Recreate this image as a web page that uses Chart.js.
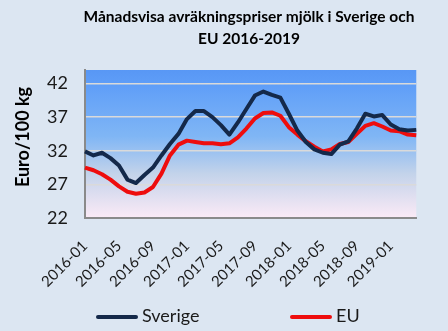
<!DOCTYPE html>
<html>
<head>
<meta charset="utf-8">
<script src="https://cdn.jsdelivr.net/npm/chart.js@4"></script>
<style>
  html, body { margin: 0; padding: 0; background: #dce6f2; }
  #wrap { width: 448px; height: 331px; }
</style>
</head>
<body>
<div id="wrap"><canvas id="milkChart"></canvas></div>
<script>
let months = ['2016-01','2016-02','2016-03','2016-04','2016-05','2016-06','2016-07','2016-08','2016-09','2016-10','2016-11','2016-12',
	'2017-01','2017-02','2017-03','2017-04','2017-05','2017-06','2017-07','2017-08','2017-09','2017-10','2017-11','2017-12',
	'2018-01','2018-02','2018-03','2018-04','2018-05','2018-06','2018-07','2018-08','2018-09','2018-10','2018-11','2018-12',
	'2019-01','2019-02','2019-03','2019-04']
let sverige = [31.9,31.3,31.7,30.9,29.8,27.7,27.2,28.4,29.5,31.3,33.0,34.5,
	36.7,37.9,37.9,37.0,35.8,34.4,36.2,38.2,40.2,40.8,40.3,39.9,
	37.5,35.0,33.3,32.2,31.7,31.5,32.9,33.4,35.3,37.5,37.1,37.3,
	35.9,35.2,35.0,35.1]
let eu = [29.5,29.1,28.5,27.7,26.7,25.9,25.6,25.8,26.6,28.6,31.3,32.9,
	33.5,33.3,33.1,33.1,32.95,33.1,34.0,35.3,36.8,37.6,37.7,37.2,
	35.5,34.4,33.4,32.6,31.9,32.2,33.0,33.3,34.5,35.7,36.1,35.6,
	35.0,34.9,34.4,34.3]
let yTicks = [22, 27, 32, 37, 42]
let titleLines = ['Månadsvisa avräkningspriser mjölk i Sverige och', 'EU 2016-2019']
let yTitle = 'Euro/100 kg'

let fontFamily = 'Lato, "Open Sans", sans-serif'

// background, plot gradient, title, y title and legend
let decor = {
	id: 'decor',
	beforeDraw(chart) {
		let ctx = chart.ctx
		let a = chart.chartArea
		ctx.save()
		ctx.fillStyle = '#dce6f2'
		ctx.fillRect(0, 0, chart.width, chart.height)
		let g = ctx.createLinearGradient(0, a.top, 0, a.bottom)
		g.addColorStop(0, '#5897f5')
		g.addColorStop(0.1, '#5f9ef8')
		g.addColorStop(0.45, '#80b6f5')
		g.addColorStop(0.7, '#c3d3ea')
		g.addColorStop(1, '#fbeaf6')
		ctx.fillStyle = g
		ctx.fillRect(a.left, a.top, a.right - a.left, a.bottom - a.top)
		ctx.restore()
	},
	afterDraw(chart) {
		let ctx = chart.ctx
		ctx.save()
		ctx.fillStyle = '#000'
		ctx.textAlign = 'center'
		ctx.textBaseline = 'middle'
		ctx.font = 'bold 15.5px ' + fontFamily
		ctx.fillText(titleLines[0], 249, 17)
		ctx.fillText(titleLines[1], 249, 39)

		ctx.save()
		ctx.translate(23, 137)
		ctx.rotate(-Math.PI / 2)
		ctx.font = 'bold 18px ' + fontFamily
		ctx.fillText(yTitle, 0, 0)
		ctx.restore()

		// legend
		let items = [{x: 96}, {x: 290}]
		ctx.font = '18px ' + fontFamily
		ctx.textAlign = 'left'
		chart.data.datasets.forEach((ds, i) => {
			let x = items[i].x
			ctx.strokeStyle = ds.borderColor
			ctx.lineWidth = 4
			ctx.lineCap = 'round'
			ctx.beginPath()
			ctx.moveTo(x + 2, 317)
			ctx.lineTo(x + 40, 317)
			ctx.stroke()
			ctx.fillStyle = '#1a1a1a'
			ctx.fillText(ds.label, x + 46, 316)
		})
		ctx.restore()
	}
}

new Chart(document.getElementById('milkChart'), {
	'type': 'line',
	'data': {
		'labels': months,
		'datasets': [{
			'label': 'Sverige',
			'data': sverige,
			'borderColor': '#14294a',
			'backgroundColor': '#14294a',
			'borderWidth': 4,
			'borderJoinStyle': 'round',
			'pointRadius': 0,
			'tension': 0,
			'fill': false
		}, {
			'label': 'EU',
			'data': eu,
			'borderColor': '#ee0d0d',
			'backgroundColor': '#ee0d0d',
			'borderWidth': 4,
			'borderJoinStyle': 'round',
			'pointRadius': 0,
			'tension': 0,
			'fill': false
		}]
	},
	'options': {
		'responsive': true,
		'maintainAspectRatio': false,
		'animation': false,
		'layout': {'padding': {'top': 70, 'right': 24, 'bottom': 33, 'left': 0}},
		'plugins': {
			'legend': {'display': false},
			'title': {'display': false},
			'tooltip': {'enabled': false}
		},
		'scales': {
			'x': {
				'offset': false,
				'grid': {'display': true, 'color': 'rgba(0,0,0,0)', 'drawTicks': false},
				'border': {'display': true, 'color': '#8a8a8a', 'width': 2},
				'ticks': {
					'autoSkip': false,
					'maxRotation': 45,
					'minRotation': 45,
					'padding': 19,
					'color': '#1a1a1a',
					'font': {'family': fontFamily, 'size': 15},
					'callback': (v, i) => i % 4 === 0 ? months[i] : ''
				},
				'afterFit': scale => { scale.height = 80 }
			},
			'y': {
				'min': 22,
				'max': 44,
				'grid': {'color': '#dadada', 'lineWidth': 1.5, 'drawTicks': false},
				'border': {'display': true, 'color': '#8a8a8a', 'width': 2},
				'ticks': {
					'padding': 17,
					'color': '#1a1a1a',
					'font': {'family': fontFamily, 'size': 18}
				},
				'afterBuildTicks': scale => { scale.ticks = yTicks.map(v => ({value: v})) },
				'afterFit': scale => { scale.width = 85 }
			}
		}
	},
	'plugins': [decor]
});
</script>
</body>
</html>
